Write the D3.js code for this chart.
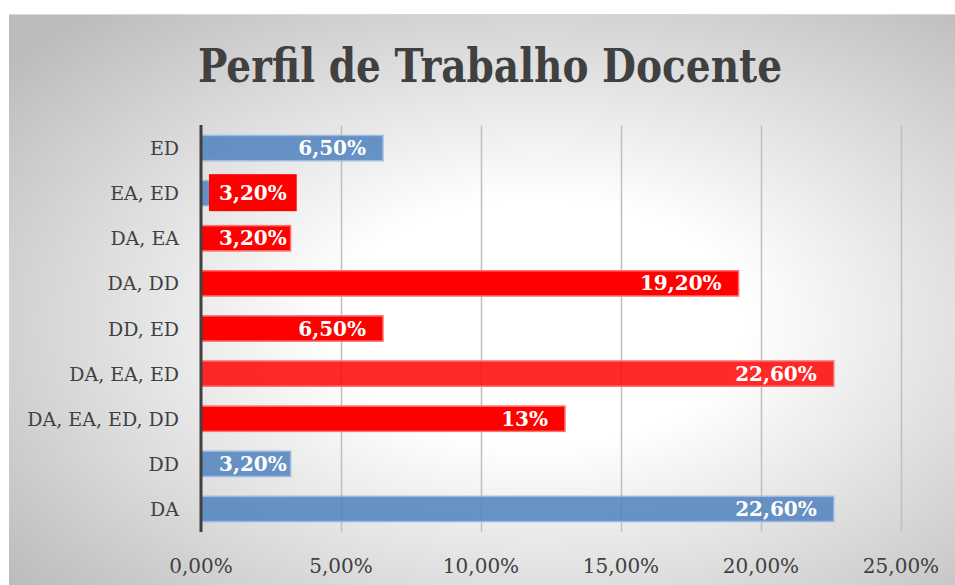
<!DOCTYPE html>
<html>
<head>
<meta charset="utf-8">
<script src="https://cdn.jsdelivr.net/npm/d3@7"></script>
<style>
  body { margin: 0; background: #ffffff; }
  svg { display: block; }
</style>
</head>
<body>
<svg width="955" height="585"></svg>
<script>
// chart data - top to bottom
const categories = ['ED', 'EA, ED', 'DA, EA', 'DA, DD', 'DD, ED', 'DA, EA, ED', 'DA, EA, ED, DD', 'DD', 'DA'];
const values = [0.065, 0.032, 0.032, 0.192, 0.065, 0.226, 0.13, 0.032, 0.226];
const valueLabels = ['6,50%', '3,20%', '3,20%', '19,20%', '6,50%', '22,60%', '13%', '3,20%', '22,60%'];
const tickValues = [0, 0.05, 0.10, 0.15, 0.20, 0.25];
const tickLabels = ['0,00%', '5,00%', '10,00%', '15,00%', '20,00%', '25,00%'];

const svg = d3.select('svg');
const width = +svg.attr('width');
const height = +svg.attr('height');
const serif = '"DejaVu Serif", serif';

// bar look per category (blue ones and red ones)
const barStyle = {
    'ED': 'blue', 'EA, ED': 'blue', 'DD': 'blue', 'DA': 'blue',
    'DA, EA': 'red', 'DA, DD': 'red', 'DD, ED': 'red', 'DA, EA, ED': 'redLight', 'DA, EA, ED, DD': 'red'
};
const styles = {
    blue: { fill: '#4F81BD', opacity: 0.85, stroke: '#9DBAE0' },
    red: { fill: '#FF0000', opacity: 1, stroke: '#FF7070' },
    redLight: { fill: '#FF0000', opacity: 0.84, stroke: '#FF7070' }
};
// the label of 'EA, ED' sits on a red box
const labelBox = { 'EA, ED': '#FF0000' };

// background gradient
const defs = svg.append('defs');
const grad = defs.append('radialGradient')
    .attr('id', 'bg')
    .attr('cx', '56%').attr('cy', '54%').attr('r', '72%');
grad.append('stop').attr('offset', '0%').attr('stop-color', '#ffffff');
grad.append('stop').attr('offset', '30%').attr('stop-color', '#ffffff');
grad.append('stop').attr('offset', '100%').attr('stop-color', '#bcbcbc');

svg.append('rect')
    .attr('x', 9).attr('y', 14)
    .attr('width', width - 9).attr('height', height - 14)
    .attr('fill', 'url(#bg)');
svg.append('line')
    .attr('x1', 9).attr('x2', width).attr('y1', 14.5).attr('y2', 14.5)
    .attr('stroke', '#d9d9d9').attr('stroke-width', 1);

// title
svg.append('text')
    .attr('x', 198).attr('y', 82)
    .attr('textLength', 584).attr('lengthAdjust', 'spacingAndGlyphs')
    .attr('font-family', serif)
    .attr('font-weight', 'bold')
    .attr('font-size', 46)
    .attr('fill', '#404040')
    .text('Perfil de Trabalho Docente');

const margin = { top: 125.5, left: 201, right: 54, bottom: 53.5 };
const innerWidth = width - margin.left - margin.right;
const innerHeight = height - margin.top - margin.bottom;

const xScale = d3.scaleLinear().domain([0, 0.25]).range([0, innerWidth]);
const yScale = d3.scaleBand()
    .domain(categories)
    .range([0, innerHeight])
    .paddingInner(0.44)
    .paddingOuter(0.22);

const g = svg.append('g').attr('transform', `translate(${margin.left},${margin.top})`);

// gridlines
const grid = g.append('g')
    .call(d3.axisBottom(xScale).tickValues(tickValues.slice(1)).tickSize(innerHeight).tickFormat(''));
grid.select('.domain').remove();
grid.selectAll('line').attr('stroke', '#bfbfbf').attr('stroke-width', 1.5);

// x tick labels
g.selectAll('text.xtick').data(tickValues)
    .enter().append('text')
        .attr('class', 'xtick')
        .attr('x', d => xScale(d))
        .attr('y', innerHeight + 41)
        .attr('text-anchor', 'middle')
        .attr('font-family', serif)
        .attr('font-size', 20)
        .attr('fill', '#404040')
        .text((d, i) => tickLabels[i]);

// category labels
g.selectAll('text.ycat').data(categories)
    .enter().append('text')
        .attr('class', 'ycat')
        .attr('x', -22)
        .attr('y', d => yScale(d) + yScale.bandwidth() / 2 + 7)
        .attr('text-anchor', 'end')
        .attr('font-family', serif)
        .attr('font-size', 19)
        .attr('fill', '#404040')
        .text(d => d);

// bars
const rows = categories.map((c, i) => ({ cat: c, value: values[i], label: valueLabels[i] }));

g.selectAll('rect.bar').data(rows)
    .enter().append('rect')
        .attr('class', 'bar')
        .attr('x', 0)
        .attr('y', d => yScale(d.cat))
        .attr('width', d => xScale(d.value))
        .attr('height', yScale.bandwidth())
        .attr('fill', d => styles[barStyle[d.cat]].fill)
        .attr('fill-opacity', d => styles[barStyle[d.cat]].opacity)
        .attr('stroke', d => styles[barStyle[d.cat]].stroke)
        .attr('stroke-width', 1.5);

// value axis line
g.append('line')
    .attr('x1', 0).attr('x2', 0)
    .attr('y1', -0.5).attr('y2', innerHeight + 0.5)
    .attr('stroke', '#404040').attr('stroke-width', 3);

// data labels - inside end, pushed right when the bar is short
const labels = g.selectAll('g.lbl').data(rows)
    .enter().append('g').attr('class', 'lbl');

labels.each(function (d) {
    const lg = d3.select(this);
    const cy = yScale(d.cat) + yScale.bandwidth() / 2;
    const t = lg.append('text')
        .attr('y', cy + 7)
        .attr('text-anchor', 'end')
        .attr('font-family', serif)
        .attr('font-weight', 'bold')
        .attr('font-size', 20)
        .attr('fill', '#ffffff')
        .text(d.label);
    const tw = t.node().getComputedTextLength();
    const xEnd = Math.max(xScale(d.value) - 17, 18 + tw);
    t.attr('x', xEnd);
    if (labelBox[d.cat]) {
        lg.insert('rect', 'text')
            .attr('x', xEnd - tw - 10)
            .attr('y', cy - 19)
            .attr('width', tw + 20)
            .attr('height', 37)
            .attr('fill', labelBox[d.cat]);
    }
});
</script>
</body>
</html>
